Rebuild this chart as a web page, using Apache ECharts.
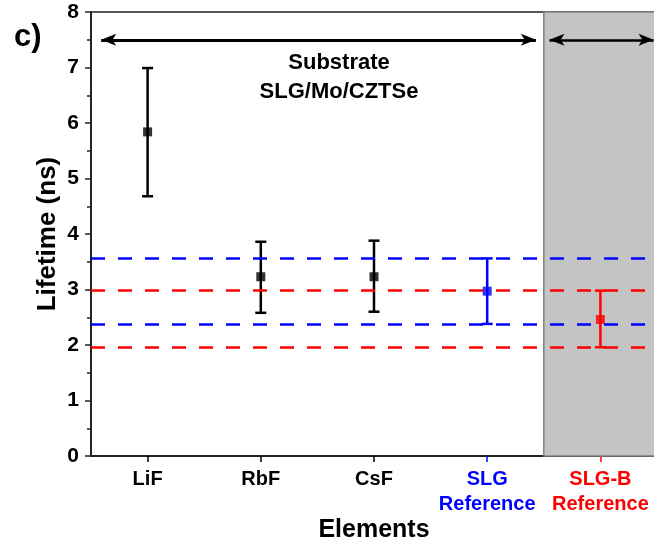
<!DOCTYPE html>
<html>
<head>
<meta charset="utf-8">
<script src="https://cdn.jsdelivr.net/npm/echarts@6/dist/echarts.min.js"></script>
<style>
html,body{margin:0;padding:0;background:#fff;}
#main{width:654px;height:542px;}
</style>
</head>
<body>
<div id="main"></div>
<script>
// chart values
var categories = ['LiF', 'RbF', 'CsF', 'SLG\nReference', 'SLG-B\nReference'];
var catColors = ['#000000', '#000000', '#000000', '#0000ff', '#ff0000'];
var means = [5.84, 3.23, 3.23, 2.97, 2.46];
var lows = [4.68, 2.58, 2.60, 2.38, 1.96];
var highs = [6.99, 3.86, 3.88, 3.56, 2.98];
var yMin = 0, yMax = 8, yStep = 1;

var font = 'Arial, "Liberation Sans", sans-serif';

var myChart = echarts.init(document.getElementById('main'));

var catData = [];
for (var i = 0; i < categories.length; i++) {
	catData.push({value: categories[i], textStyle: {color: catColors[i]}});
}

// dashed reference lines = extents of the two reference samples
var refLines = [];
[3, 4].forEach(function (k) {
	[highs[k], lows[k]].forEach(function (v) {
		refLines.push({yAxis: v, lineStyle: {color: catColors[k], type: [14, 13], width: 2.5}});
	});
});

var errData = [], meanData = [];
for (var j = 0; j < categories.length; j++) {
	errData.push([j, lows[j], highs[j]]);
	meanData.push({value: [j, means[j]], itemStyle: {color: catColors[j]}});
}

function tickAxis(color, fn, main) {
	return {
		type: 'category',
		data: catData,
		position: 'bottom',
		gridIndex: 0,
		boundaryGap: true,
		axisLine: {show: main, lineStyle: {color: '#222', width: 2}},
		axisTick: {show: true, alignWithLabel: true, interval: fn, length: 6, lineStyle: {color: color, width: 1.5}},
		axisLabel: {
			show: main, interval: 0, margin: 11,
			fontFamily: font, fontWeight: 'bold', fontSize: 20, lineHeight: 25
		},
		splitLine: {show: false},
		name: main ? 'Elements' : '',
		nameLocation: 'middle',
		nameGap: 62,
		nameMoveOverlap: false,
		nameTextStyle: {fontFamily: font, fontWeight: 'bold', fontSize: 25, color: '#000'}
	};
}

var option = {
	animation: false,
	backgroundColor: '#fff',
	grid: {
		left: 91, top: 12, width: 566, height: 444,
		show: true, borderColor: '#222', borderWidth: 1.5,
		backgroundColor: 'transparent',
		outerBoundsMode: 'none'
	},
	xAxis: [
		tickAxis('#000', function (idx) { return idx < 3; }, true),
		tickAxis(catColors[3], function (idx) { return idx === 3; }, false),
		tickAxis(catColors[4], function (idx) { return idx === 4; }, false),
		{type: 'value', min: 0.5, max: 5.5, show: false}
	],
	yAxis: {
		type: 'value',
		min: yMin, max: yMax, interval: yStep,
		axisLine: {show: true, lineStyle: {color: '#222', width: 2}},
		axisTick: {show: true, length: 6, lineStyle: {color: '#222', width: 1.5}},
		minorTick: {show: true, splitNumber: 2, length: 4, lineStyle: {color: '#222', width: 1.5}},
		splitLine: {show: false},
		axisLabel: {fontFamily: font, fontWeight: 'bold', fontSize: 21, color: '#000', margin: 12},
		name: 'Lifetime (ns)',
		nameLocation: 'middle',
		nameGap: 30,
		nameMoveOverlap: false,
		nameTextStyle: {fontFamily: font, fontWeight: 'bold', fontSize: 26, color: '#000'}
	},
	graphic: [
		{type: 'text', left: 14, top: 22, style: {text: 'c)', font: 'bold 31px ' + font, fill: '#000'}},
		{type: 'text', x: 339, y: 48, style: {text: 'Substrate\nSLG/Mo/CZTSe', font: 'bold 22px ' + font, fill: '#000', align: 'center', verticalAlign: 'top', lineHeight: 29}},
		{type: 'text', x: 547, y: 49, style: {text: 'Substrate\nSLG-B/Mo/\nCZTSe', font: 'bold 19px ' + font, fill: '#000', align: 'left', verticalAlign: 'top', lineHeight: 28.5}}
	],
	series: [
		{
			name: 'regions',
			type: 'line',
			xAxisIndex: 3,
			data: [],
			z: 1,
			silent: true,
			markArea: {
				silent: true,
				itemStyle: {color: '#c4c4c4', borderColor: '#808080', borderWidth: 1.5},
				data: [[{xAxis: 4.5, yAxis: yMin}, {xAxis: 5.5, yAxis: yMax}]]
			},
			markLine: {
				silent: true,
				symbol: ['arrow', 'arrow'],
				symbolSize: [9, 15],
				label: {show: false},
				lineStyle: {color: '#000', type: 'solid', width: 3},
				data: [
					[{coord: [0.59, 7.5]}, {coord: [4.43, 7.5]}],
					[{coord: [4.55, 7.5], lineStyle: {width: 2.5}}, {coord: [5.47, 7.5]}]
				]
			}
		},
		{
			name: 'refs',
			type: 'line',
			xAxisIndex: 0,
			data: [],
			z: 2,
			silent: true,
			markLine: {
				silent: true,
				symbol: 'none',
				label: {show: false},
				data: refLines
			}
		},
		{
			name: 'errors',
			type: 'custom',
			xAxisIndex: 0,
			z: 3,
			data: errData,
			renderItem: function (params, api) {
				var x = api.value(0);
				var lo = api.coord([x, api.value(1)]);
				var hi = api.coord([x, api.value(2)]);
				var half = 5.5;
				var style = {stroke: catColors[params.dataIndex], lineWidth: 2.5};
				return {
					type: 'group',
					children: [
						{type: 'line', shape: {x1: lo[0], y1: lo[1], x2: hi[0], y2: hi[1]}, style: style},
						{type: 'line', shape: {x1: lo[0] - half, y1: lo[1], x2: lo[0] + half, y2: lo[1]}, style: style},
						{type: 'line', shape: {x1: hi[0] - half, y1: hi[1], x2: hi[0] + half, y2: hi[1]}, style: style}
					]
				};
			}
		},
		{
			name: 'means',
			type: 'scatter',
			xAxisIndex: 0,
			z: 4,
			symbol: 'rect',
			symbolSize: 9,
			data: meanData
		}
	]
};

myChart.setOption(option, true);
</script>
</body>
</html>
